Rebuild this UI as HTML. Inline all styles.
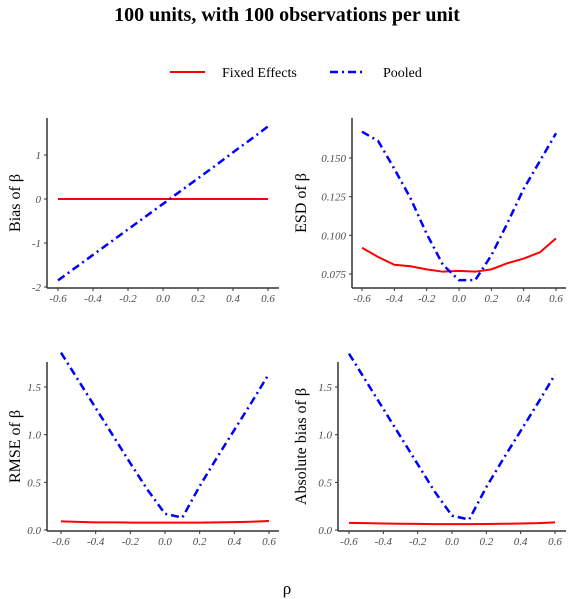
<!DOCTYPE html>
<html><head><meta charset="utf-8"><style>
body{margin:0;background:#fff}
svg{display:block;font-family:"Liberation Serif",serif}
.tk{font-size:11px;font-style:italic;fill:#4d4d4d}
.yl{font-size:16px;fill:#000}
</style></head><body>
<svg id="chart" width="574" height="599" viewBox="0 0 574 599">
<text x="287" y="21" text-anchor="middle" font-size="20" font-weight="bold">100 units, with 100 observations per unit</text>
<g>
<line x1="170" y1="72" x2="205" y2="72" stroke="#f00" stroke-width="2"/>
<text x="222" y="77" font-size="14">Fixed Effects</text>
<line x1="330" y1="72" x2="366" y2="72" stroke="#00f" stroke-width="2.5" stroke-dasharray="8,4,2,4"/>
<text x="383" y="77" font-size="14">Pooled</text>
</g>
<text x="287" y="594" text-anchor="middle" font-size="17">ρ</text>
<g id="panels"></g>
</svg>
<script>
const rho=[-0.6,-0.5,-0.4,-0.3,-0.2,-0.1,0,0.1,0.2,0.3,0.4,0.5,0.6];
const xTicks=[-0.6,-0.4,-0.2,0,0.2,0.4,0.6];
const biasFE=[0,0,0,0,0,0,0,0,0,0,0,0,0];
const biasPooled=[-1.85,-1.56,-1.27,-0.98,-0.69,-0.40,-0.11,0.18,0.47,0.76,1.06,1.35,1.65];
const esdFE=[0.092,0.086,0.081,0.080,0.078,0.0765,0.077,0.0765,0.078,0.082,0.085,0.089,0.098];
const esdPooled=[0.167,0.161,0.143,0.124,0.101,0.081,0.071,0.071,0.087,0.108,0.130,0.148,0.166];
const rmseFE=[0.09,0.085,0.08,0.08,0.078,0.077,0.077,0.077,0.078,0.08,0.083,0.087,0.095];
const rmsePooled=[1.86,1.57,1.28,0.99,0.70,0.42,0.17,0.13,0.46,0.76,1.05,1.34,1.64];
const absFE=[0.075,0.072,0.068,0.066,0.064,0.062,0.062,0.062,0.063,0.065,0.068,0.072,0.08];
const absPooled=[1.85,1.56,1.27,0.98,0.69,0.40,0.15,0.11,0.45,0.75,1.04,1.33,1.63];
const yTicksBias=[-2,-1,0,1], yTickLabBias=["-2","-1","0","1"];
const yTicksEsd=[0.075,0.1,0.125,0.15], yTickLabEsd=["0.075","0.100","0.125","0.150"];
const yTicksR=[0,0.5,1,1.5], yTickLabR=["0.0","0.5","1.0","1.5"];
const NS="http://www.w3.org/2000/svg";
const root=document.getElementById('panels');
function mk(t,a,p){const e=document.createElementNS(NS,t);for(const k in a)e.setAttribute(k,a[k]);(p||root).appendChild(e);return e;}
function panel(o){
 const g=mk('g',{});
 
 
 const sx=v=>o.x0+(v-(-0.6))*(o.x1-o.x0)/1.2;
 const sy=v=>o.ya+(v-o.va)*(o.yb-o.ya)/(o.vb-o.va);
 mk('line',{x1:o.ax,y1:o.top,x2:o.ax,y2:o.bot,stroke:'#333','stroke-width':1.5},g);
 mk('line',{x1:o.ax,y1:o.bot,x2:o.right,y2:o.bot,stroke:'#333','stroke-width':1.5},g);
 xTicks.forEach(v=>{
  mk('line',{x1:sx(v),y1:o.bot,x2:sx(v),y2:o.bot+3,stroke:'#333'},g);
  const t=mk('text',{x:sx(v),y:o.bot+14,'text-anchor':'middle',class:'tk'},g);t.textContent=v.toFixed(1);
 });
 o.yt.forEach((v,i)=>{
  mk('line',{x1:o.ax-3,y1:sy(v),x2:o.ax,y2:sy(v),stroke:'#333'},g);
  const t=mk('text',{x:o.ax-6,y:sy(v)+4,'text-anchor':'end',class:'tk'},g);t.textContent=o.yl[i];
 });
 const lab=mk('text',{class:'yl','text-anchor':'middle',transform:`translate(${o.lx},${(o.top+o.bot)/2}) rotate(-90)`},g);lab.textContent=o.label;
 const pts=a=>a.map((v,i)=>sx(rho[i])+','+sy(v)).join(' ');
 const r=mk('polyline',{points:pts(o.fe),fill:'none',stroke:'#f00','stroke-width':2},g);
 
 
 const b=mk('polyline',{points:pts(o.po),fill:'none',stroke:'#00f','stroke-width':2.5,'stroke-dasharray':'8,4,2,4'},g);
 
 
}
panel({name:'bias-panel',ax:47,top:118,bot:288,right:279,x0:58,x1:268,ya:199,va:0,yb:155,vb:1,yt:yTicksBias,yl:yTickLabBias,lx:20,label:'Bias of β',fe:biasFE,po:biasPooled});
panel({name:'esd-panel',ax:352,top:118,bot:288,right:566,x0:362,x1:556,ya:274,va:0.075,yb:158,vb:0.15,yt:yTicksEsd,yl:yTickLabEsd,lx:306,label:'ESD of β',fe:esdFE,po:esdPooled});
panel({name:'rmse-panel',ax:47,top:362,bot:531,right:279,x0:61,x1:269,ya:530,va:0,yb:387,vb:1.5,yt:yTicksR,yl:yTickLabR,lx:20,label:'RMSE of β',fe:rmseFE,po:rmsePooled});
panel({name:'abs-bias-panel',ax:338,top:362,bot:531,right:566,x0:349,x1:555,ya:530,va:0,yb:387,vb:1.5,yt:yTicksR,yl:yTickLabR,lx:306,label:'Absolute bias of β',fe:absFE,po:absPooled});
</script>
</body></html>
